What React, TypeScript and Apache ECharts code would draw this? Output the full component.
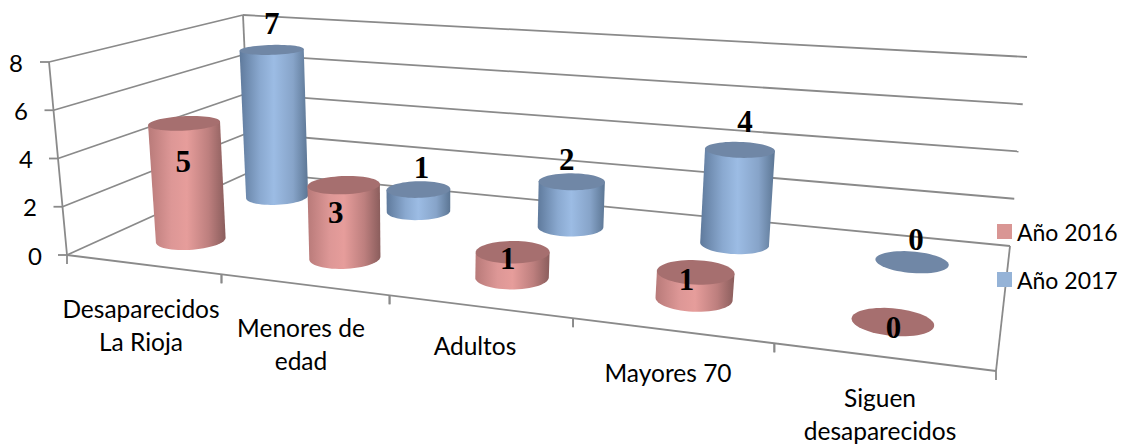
import React, { useEffect, useRef } from "react";
import * as echarts from "echarts";

const categories = ["Desaparecidos\nLa Rioja", "Menores de\nedad", "Adultos", "Mayores 70", "Siguen\ndesaparecidos"];
const valueTicks = [0, 2, 4, 6, 8];
const seriesNames = ["Año 2016", "Año 2017"];
const values2016 = [5, 3, 1, 1, 0];
const values2017 = [7, 1, 2, 4, 0];

type Pt = [number, number];

// Corners of the box in perspective: front-left, front-right, back-right, back-left
const FLOOR: Pt[] = [[67, 255], [996, 371], [1010, 246], [250, 172]];
const ROOF: Pt[] = [[49, 62], [1028, 129], [1027, 57], [243, 15]];

function homography(q: Pt[]) {
  const [p00, p10, p11, p01] = q;
  const dx1 = p10[0] - p11[0], dx2 = p01[0] - p11[0], sx = p00[0] - p10[0] + p11[0] - p01[0];
  const dy1 = p10[1] - p11[1], dy2 = p01[1] - p11[1], sy = p00[1] - p10[1] + p11[1] - p01[1];
  const det = dx1 * dy2 - dx2 * dy1;
  const g = (sx * dy2 - dx2 * sy) / det;
  const h = (dx1 * sy - sx * dy1) / det;
  return (u: number, v: number): Pt => {
    const w = 1 + g * u + h * v;
    return [
      (p00[0] + (p10[0] - p00[0] + g * p10[0]) * u + (p01[0] - p00[0] + h * p01[0]) * v) / w,
      (p00[1] + (p10[1] - p00[1] + g * p10[1]) * u + (p01[1] - p00[1] + h * p01[1]) * v) / w,
    ];
  };
}
const floorH = homography(FLOOR);
const roofH = homography(ROOF);
const project = (u: number, v: number, t: number): Pt => {
  const a = floorH(u, v), b = roofH(u, v);
  return [a[0] + (b[0] - a[0]) * t, a[1] + (b[1] - a[1]) * t];
};

const GRID = { left: 100, top: 20, width: 800, height: 400 };
const toU = (px: number) => (px - GRID.left) / GRID.width;
const toT = (py: number) => (GRID.top + GRID.height - py) / GRID.height;

const LINE = "#8a8a8a";
const LABEL_FONT = "Lato, Carlito, 'Open Sans', sans-serif";
const VALUE_FONT = "'Liberation Serif', 'DejaVu Serif', serif";

const lineEl = (a: Pt, b: Pt) => ({
  type: "line",
  shape: { x1: a[0], y1: a[1], x2: b[0], y2: b[1] },
  style: { stroke: LINE, lineWidth: 1.8, fill: "none" },
});

function circle(uc: number, vc: number, t: number): Pt[] {
  const ru = 0.0395, rv = 0.1;
  const pts: Pt[] = [];
  for (let i = 0; i < 60; i++) {
    const a = (i / 60) * Math.PI * 2;
    pts.push(project(uc + ru * Math.cos(a), vc + rv * Math.sin(a), t));
  }
  return pts;
}

function cylinderRenderer(
  depth: number,
  shift: number,
  stops: [string, string, string, string, string],
  topColor: string,
  isFront: boolean,
  nudge: Pt[],
) {
  return (_params: any, api: any) => {
    const cat = api.value(0), val = api.value(1);
    const c = api.coord([cat, val]);
    const u = toU(c[0]) + shift, t = toT(c[1]);
    const children: any[] = [];
    const top = circle(u, depth, t);
    if (val > 0) {
      const bot = circle(u, depth, 0);
      const ext = (pts: Pt[]) => {
        let lo = 0, hi = 0;
        pts.forEach((p, i) => {
          if (p[0] < pts[lo][0]) lo = i;
          if (p[0] > pts[hi][0]) hi = i;
        });
        return [lo, hi];
      };
      const [bl, br] = ext(bot);
      const [tl, tr] = ext(top);
      const n = bot.length;
      const arcA: Pt[] = [];
      const arcB: Pt[] = [];
      for (let i = br; ; i = (i + 1) % n) { arcA.push(bot[i]); if (i === bl) break; }
      for (let i = br; ; i = (i - 1 + n) % n) { arcB.push(bot[i]); if (i === bl) break; }
      const meanY = (a: Pt[]) => a.reduce((s, p) => s + p[1], 0) / a.length;
      const arc = meanY(arcA) > meanY(arcB) ? arcA : arcB;
      children.push({
        type: "polygon",
        shape: { points: [top[tr], ...arc, top[tl]] },
        style: {
          fill: new echarts.graphic.LinearGradient(0, 0, 1, 0, [
            { offset: 0, color: stops[0] },
            { offset: 0.3, color: stops[1] },
            { offset: 0.5, color: stops[2] },
            { offset: 0.78, color: stops[3] },
            { offset: 1, color: stops[4] },
          ]),
        },
      });
    }
    children.push({ type: "polygon", shape: { points: top }, style: { fill: topColor } });
    const cTop = project(u, depth, t);
    const cBase = project(u, depth, 0);
    const lx = (isFront ? cTop[0] - 3 : cTop[0] + 5) + nudge[cat][0];
    const ly = (isFront
      ? (val > 0 ? cBase[1] + (cTop[1] - cBase[1]) * 0.68 : cBase[1] + 5)
      : cTop[1] - 26) + nudge[cat][1];
    children.push({
      type: "text",
      z2: 10,
      style: {
        text: String(val),
        x: lx,
        y: ly,
        align: "center",
        verticalAlign: "middle",
        fontFamily: VALUE_FONT,
        fontWeight: "bold",
        fontSize: 31,
        fill: "#000",
      },
    });
    return { type: "group", children };
  };
}

const CATEGORY_LABEL_POS: Pt[] = [[141, 325], [301, 343.5], [475, 345], [668, 372], [880, 414]];
const VALUE_LABEL_X = [35, 30, 26, 21, 16];
const NUDGE_2016: Pt[] = [[2, 1], [-5, 4], [-2, -2], [-6, -1], [4, 1]];
const NUDGE_2017: Pt[] = [[-5, 0], [-2, 4], [-10, 4], [0, -2], [-1, 4]];
const LABEL_SIZE = 24.5;
const LINE_STEP = 16.5;

export default function App() {
  const ref = useRef<HTMLDivElement>(null);
  useEffect(() => {
    document.body.style.margin = "0";
    const chart = echarts.init(ref.current!, undefined, { renderer: "svg" });
    chart.setOption({
      animation: false,
      backgroundColor: "#fff",
      grid: { ...GRID },
      xAxis: { type: "category", data: categories, show: false },
      yAxis: { type: "value", min: 0, max: 8, interval: 2, show: false },
      legend: {
        data: seriesNames,
        orient: "vertical",
        left: 997,
        top: 220,
        padding: 0,
        itemWidth: 15,
        itemHeight: 15,
        itemGap: 25,
        icon: "rect",
        textStyle: { fontFamily: LABEL_FONT, fontSize: 23, color: "#000" },
        selectedMode: false,
      },
      series: [
        {
          type: "custom",
          name: "walls",
          silent: true,
          z: 1,
          data: valueTicks.map((v) => [0, v]),
          renderItem: (_p: any, api: any) => {
            const v = api.value(1);
            const t = toT(api.coord([0, v])[1]);
            const a = project(0, 0, t), b = project(0, 1, t), c = project(1, 1, t);
            return {
              type: "group",
              children: [
                lineEl(a, b),
                lineEl(b, c),
                lineEl([a[0] - 9, a[1]], a),
                {
                  type: "text",
                  style: {
                    text: String(v),
                    x: VALUE_LABEL_X[v / 2],
                    y: a[1],
                    align: "center",
                    verticalAlign: "middle",
                    fontFamily: LABEL_FONT,
                    fontSize: 24,
                    fill: "#000",
                  },
                },
              ],
            };
          },
        },
        {
          type: "custom",
          name: "edges",
          silent: true,
          z: 1,
          data: [0],
          renderItem: () => ({
            type: "group",
            children: [
              lineEl(project(0, 0, 0), project(0, 0, 1)),
              lineEl(project(0, 0, 0), project(1, 0, 0)),
              lineEl(project(1, 0, 0), project(1, 1, 0)),
              lineEl(project(0, 1, 0), project(0, 1, 1)),
            ],
          }),
        },
        {
          type: "custom",
          name: "categories",
          silent: true,
          z: 1,
          data: categories.map((_, i) => [i, 0]),
          renderItem: (_p: any, api: any) => {
            const i = api.value(0);
            const pos = CATEGORY_LABEL_POS[i];
            const u0 = i / categories.length;
            const tick = project(u0, 0, 0);
            const tickEnd = project(u0 + 0.2, 0, 0);
            const lines = categories[i].split("\n");
            return {
              type: "group",
              children: [
                lineEl(tick, [tick[0], tick[1] + 9]),
                lineEl(tickEnd, [tickEnd[0], tickEnd[1] + 9]),
                ...lines.map((text: string, k: number) => ({
                  type: "text",
                  style: {
                    text,
                    x: pos[0],
                    y: pos[1] + (lines.length === 1 ? 0 : (k === 0 ? -LINE_STEP : LINE_STEP)),
                    align: "center",
                    verticalAlign: "middle",
                    fontFamily: LABEL_FONT,
                    fontSize: LABEL_SIZE,
                    fill: "#000",
                  },
                })),
              ],
            };
          },
        },
        {
          type: "custom",
          name: seriesNames[1],
          silent: true,
          z: 2,
          itemStyle: { color: "#95b3d7" },
          data: values2017.map((v, i) => [i, v]),
          renderItem: cylinderRenderer(0.75, -0.001, ["#5f7a9c", "#8aa9d0", "#9cbce4", "#87a4c9", "#5c7694"], "#7087a6", false, NUDGE_2017),
        },
        {
          type: "custom",
          name: seriesNames[0],
          silent: true,
          z: 3,
          itemStyle: { color: "#d99694" },
          data: values2016.map((v, i) => [i, v]),
          renderItem: cylinderRenderer(0.245, -0.001, ["#b87a79", "#dd9796", "#e69d9b", "#bd7f7e", "#8a5d5c"], "#a66f6f", true, NUDGE_2016),
        },
      ],
    });
    return () => chart.dispose();
  }, []);
  return <div ref={ref} style={{ width: 1122, height: 444 }} />;
}
